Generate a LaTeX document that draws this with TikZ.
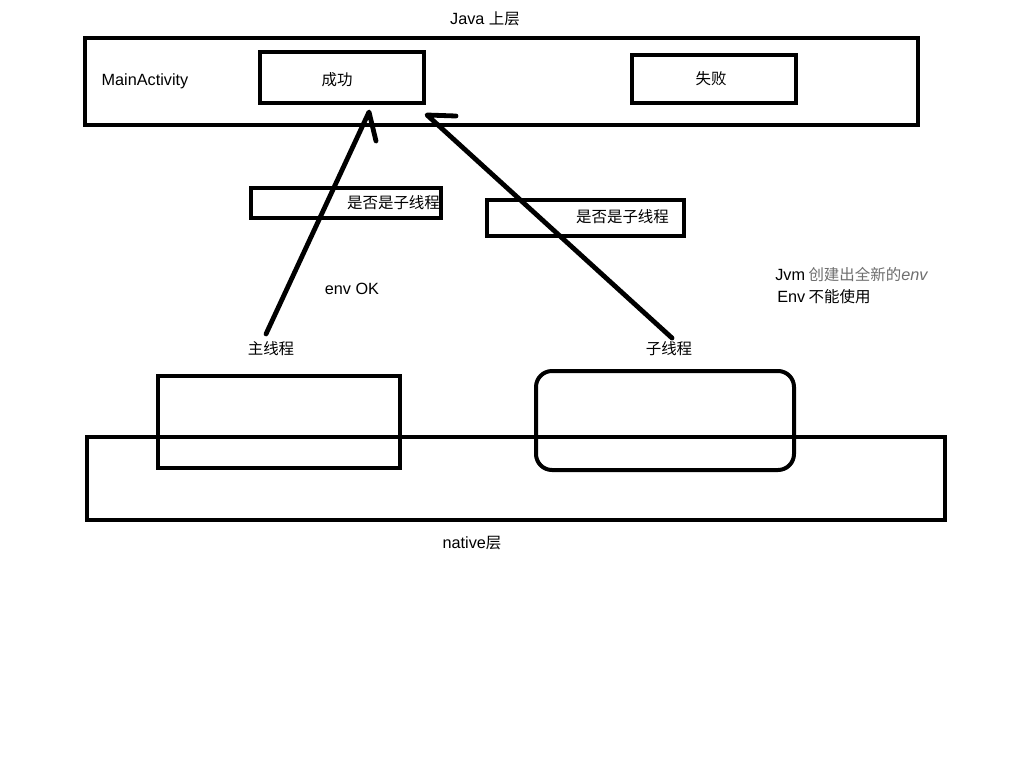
\documentclass[tikz,border=0pt]{standalone}
\usepackage{fontspec}
\setmainfont{Noto Sans CJK SC}
\newfontfamily\latinsans[Scale=1.05]{Liberation Sans}
\definecolor{softgray}{RGB}{110,110,110}
\begin{document}
\begin{tikzpicture}[x=0.75pt,y=-0.75pt,
  box/.style={draw=black,line width=3pt},
  lbl/.style={font=\fontsize{11.6}{14}\selectfont,inner sep=0pt,text=black},
  stroke/.style={draw=black,line width=3.6pt,line cap=round,line join=round}]
\useasboundingbox[fill=white] (0,0) rectangle (1024,768);
% top layer
\draw[box] (85,38) rectangle (918,125);
\node[box,minimum width=164*0.75pt,minimum height=51*0.75pt,inner sep=0pt] (ok) at (342,77.5) {};
\node[lbl] at (337,80) {成功};
\node[box,minimum width=164*0.75pt,minimum height=48*0.75pt,inner sep=0pt] (fail) at (714,79) {};
\node[lbl] at (711,79) {失败};
\node[lbl] (ma) at (145,81) {\latinsans MainActivity};
\node[lbl] (java) at (485,19) {\latinsans Java \rmfamily 上层};
% check boxes
\node[box,minimum width=190*0.75pt,minimum height=30*0.75pt,inner sep=0pt] (q1) at (346,203) {};
\node[lbl] at (393.5,203) {是否是子线程};
\node[box,minimum width=197*0.75pt,minimum height=36*0.75pt,inner sep=0pt] (q2) at (585.5,218) {};
\node[lbl] at (622.5,217) {是否是子线程};
\node[lbl] (envok) at (352,289) {\latinsans env OK};
\node[lbl,align=left,anchor=west] (jvm) at (775,286) {{\latinsans Jvm} {\color{softgray}创建出全新的{\latinsans\itshape env}}\\[2.5pt] \hspace{1.5pt}{\latinsans Env} 不能使用};
% thread labels
\node[lbl] (mainth) at (271,349) {主线程};
\node[lbl] (subth) at (669,349) {子线程};
% native layer
\draw[box] (87,437) rectangle (945,520);
\node[box,minimum width=242*0.75pt,minimum height=92*0.75pt,inner sep=0pt] (mbox) at (279,422) {};
\node[box,rounded corners=12pt,minimum width=258*0.75pt,minimum height=99*0.75pt,inner sep=0pt] (sbox) at (665,420.5) {};
\node[lbl] (native) at (472,543) {\latinsans native\rmfamily 层};
% hand drawn arrows
\coordinate (a1s) at (266,334);
\coordinate (a1t) at (369,112);
\coordinate (a1h) at (376,141);
\coordinate (a2s) at (672,338);
\coordinate (a2t) at (427,115);
\coordinate (a2h) at (456,116);
\draw[stroke] (a1s) -- (a1t) -- (a1h);
\draw[stroke] (a2s) -- (a2t) -- (a2h);
\end{tikzpicture}
\end{document}
